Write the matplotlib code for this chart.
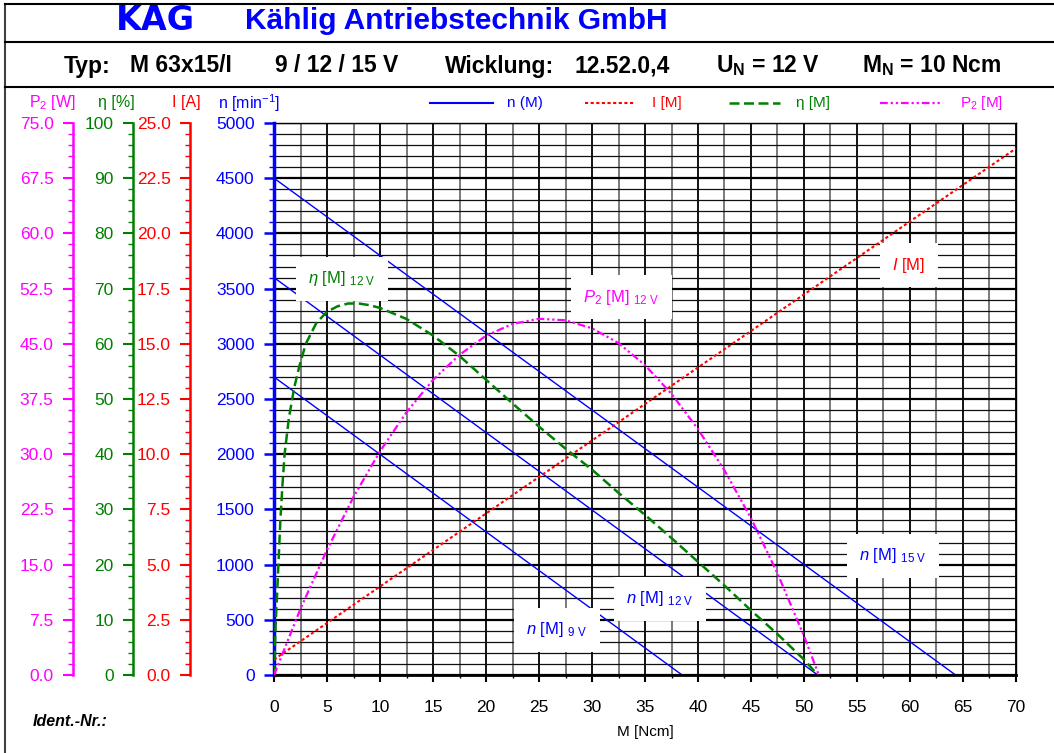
import matplotlib
matplotlib.use("Agg")
import matplotlib.pyplot as plt
from matplotlib.lines import Line2D
from matplotlib.ticker import MultipleLocator, FormatStrFormatter

plt.rcParams['font.family'] = ['Liberation Sans', 'DejaVu Sans']
plt.rcParams['mathtext.fontset'] = 'custom'
plt.rcParams['mathtext.rm'] = 'Liberation Sans'
plt.rcParams['mathtext.it'] = 'Liberation Sans:italic'
plt.rcParams['mathtext.bf'] = 'Liberation Sans:bold'

# speed lines n(M) for 9 / 12 / 15 V
n_15v_m = [0, 64.3]
n_15v = [4500, 0]
n_12v_m = [0, 51.3]
n_12v = [3600, 0]
n_9v_m = [0, 38.5]
n_9v = [2700, 0]

# current I(M)
i_m = [0, 70]
i_a = [0.7, 23.85]

# efficiency at 12 V
eta_m = [0, 0.15, 0.3, 0.45, 0.6, 0.8, 1.0, 1.4, 1.9, 2.4, 3.0, 4.0, 5.0, 6.0, 7.0, 8.0, 9.0, 10.0,
         12.5, 15.0, 17.5, 20.0, 22.5, 25.0, 27.5, 30.0, 32.5, 35.0, 37.5, 40.0, 42.5, 45.0, 47.5, 50.0, 51.3]
eta = [0, 9, 15, 21.5, 28, 34.5, 40, 46.5, 52, 56, 60, 63.8, 65.8, 66.8, 67.3, 67.3, 67.0, 66.5,
       64.5, 61.5, 57.8, 53.5, 49.2, 45.0, 41.0, 37.2, 33.0, 29.0, 24.8, 20.5, 16.2, 11.7, 7.4, 2.8, 0]

# output power at 12 V
p2_m = [0, 2.5, 5, 7.5, 10, 12.5, 15, 17.5, 20, 22.5, 25, 27.5, 30, 32.5, 35, 37.5, 40, 42.5, 45, 47.5, 50, 51.4]
p2 = [0, 9.0, 17.0, 24.2, 30.4, 35.7, 40.1, 43.5, 46.1, 47.7, 48.4, 48.2, 47.1, 45.1, 42.1, 38.2, 33.4,
      27.8, 21.3, 13.8, 5.3, 0]

W, H = 1054, 753
BLUE = '#0000FF'
RED = '#FF0000'
GREEN = '#008000'
MAGENTA = '#FF00FF'


def fx(x):
    return x / W


def fy(y):
    return 1 - y / H


fig = plt.figure(figsize=(W / 100, H / 100), dpi=100)

# frame and header separators
fig.add_artist(Line2D([fx(5), fx(5)], [fy(4), fy(753)], color='#404040', lw=1.5))
for yy in [4, 42, 87]:
    fig.add_artist(Line2D([fx(5), 1], [fy(yy), fy(yy)], color='black', lw=1.5))

# header
fig.text(fx(116), fy(21), 'KAG', color=BLUE, fontsize=24, fontweight='bold',
         family='DejaVu Sans', va='center', ha='left')
fig.text(fx(245), fy(21), 'Kählig Antriebstechnik GmbH', color=BLUE, fontsize=21.5,
         fontweight='bold', va='center', ha='left')
row = [(64, 'Typ:'), (130, 'M 63x15/I'), (275, '9 / 12 / 15 V'),
       (445, 'Wicklung:'), (575, '12.52.0,4'),
       (716, r'U$_\mathbf{N}$ = 12 V'), (862, r'M$_\mathbf{N}$ = 10 Ncm')]
for x, s in row:
    fig.text(fx(x), fy(66), s, fontsize=16.5, fontweight='bold', va='center', ha='left')

# axis headers
fig.text(fx(52), fy(103), r'P$_\mathrm{2}$ [W]', color=MAGENTA, fontsize=11.5, ha='center', va='center')
fig.text(fx(116), fy(103), 'η [%]', color=GREEN, fontsize=11.5, ha='center', va='center')
fig.text(fx(186), fy(103), 'I [A]', color=RED, fontsize=11.5, ha='center', va='center')
fig.text(fx(249), fy(103), r'n [min$^\mathrm{-1}$]', color=BLUE, fontsize=11.5, ha='center', va='center')

# legend row
legend_items = [(430, 493, 507, BLUE, '-', 1.5, 'n (M)'),
                (585, 635, 652, RED, (0, (1.5, 1.2)), 1.5, 'I [M]'),
                (729, 780, 796, GREEN, (0, (4, 1.8)), 1.8, 'η [M]'),
                (880, 940, 960, MAGENTA, (0, (3.5, 1.3, 1, 1.3, 1, 1.3)), 1.6, r'P$_\mathrm{2}$ [M]')]
for x0, x1, xt, c, ls, lw, s in legend_items:
    fig.add_artist(Line2D([fx(x0), fx(x1)], [fy(103), fy(103)], color=c, ls=ls, lw=lw))
    fig.text(fx(xt), fy(103), s, color=c, fontsize=11, ha='left', va='center')

# main axes (speed)
ax = fig.add_axes([fx(274), fy(675), (1016 - 274) / W, (675 - 123) / H])
ax.set_xlim(0, 70)
ax.set_ylim(0, 5000)
ax.xaxis.set_major_locator(MultipleLocator(5))
ax.xaxis.set_minor_locator(MultipleLocator(2.5))
ax.yaxis.set_major_locator(MultipleLocator(500))
ax.yaxis.set_minor_locator(MultipleLocator(100))
ax.set_axisbelow(True)
ax.xaxis.grid(True, which='major', color='black', lw=1.3)
ax.xaxis.grid(True, which='minor', color='#707070', lw=1.3)
ax.yaxis.grid(True, which='major', color='black', lw=1.6)
ax.yaxis.grid(True, which='minor', color='#101010', lw=0.9)
ax.spines['left'].set_color(BLUE)
ax.spines['left'].set_linewidth(2.5)
ax.spines['bottom'].set_linewidth(2)
ax.spines['top'].set_linewidth(1)
ax.spines['right'].set_linewidth(1)
ax.tick_params(axis='y', which='major', colors=BLUE, length=7, width=1.8, labelsize=12.5, pad=7)
ax.tick_params(axis='y', which='minor', colors=BLUE, length=3.5, width=1)
ax.tick_params(axis='x', which='major', length=5, width=1.5, labelsize=12.5, pad=13)
ax.tick_params(axis='x', which='minor', length=2.5, width=1)
ax.set_xlabel('M [Ncm]', fontsize=11, labelpad=7)

ax.plot(n_15v_m, n_15v, color=BLUE, lw=1)
ax.plot(n_12v_m, n_12v, color=BLUE, lw=1)
ax.plot(n_9v_m, n_9v, color=BLUE, lw=1)


def side_axis(color, x_px, ylim, major, minor, fmt):
    a = ax.twinx()
    a.set_ylim(*ylim)
    for s in ['top', 'right', 'bottom']:
        a.spines[s].set_visible(False)
    a.spines['left'].set_visible(True)
    a.spines['left'].set_position(('axes', (x_px - 274) / (1016 - 274)))
    a.spines['left'].set_color(color)
    a.spines['left'].set_linewidth(1.8)
    a.yaxis.set_ticks_position('left')
    a.yaxis.set_label_position('left')
    a.yaxis.set_major_locator(MultipleLocator(major))
    a.yaxis.set_minor_locator(MultipleLocator(minor))
    a.yaxis.set_major_formatter(FormatStrFormatter(fmt))
    a.tick_params(axis='y', which='major', colors=color, length=7, width=1.5, labelsize=12.5, pad=7)
    a.tick_params(axis='y', which='minor', colors=color, length=3.5, width=1)
    return a


ax_i = side_axis(RED, 190, (0, 25), 2.5, 0.5, '%.1f')
ax_eta = side_axis(GREEN, 133, (0, 100), 10, 2, '%d')
ax_p = side_axis(MAGENTA, 73, (0, 75), 7.5, 1.5, '%.1f')

ax_i.plot(i_m, i_a, color=RED, lw=1.5, ls=(0, (1.5, 1.2)))
ax_eta.plot(eta_m, eta, color=GREEN, lw=1.8, ls=(0, (4, 1.8)))
ax_p.plot(p2_m, p2, color=MAGENTA, lw=1.6, ls=(0, (3.5, 1.3, 1, 1.3, 1, 1.3)))

# curve labels
box = dict(facecolor='white', edgecolor='none', boxstyle='square,pad=0.75')
labels = [(6.4, 3590, r'$\eta$ [M] ${}_\mathrm{12\ V}$', GREEN),
          (32.8, 3420, r'$P_\mathrm{2}$ [M] ${}_\mathrm{12\ V}$', MAGENTA),
          (59.9, 3710, r'$I$ [M]', RED),
          (58.4, 1080, r'$n$ [M] ${}_\mathrm{15\ V}$', BLUE),
          (36.4, 690, r'$n$ [M] ${}_\mathrm{12\ V}$', BLUE),
          (26.7, 410, r'$n$ [M] ${}_\mathrm{9\ V}$', BLUE)]
for x, y, s, c in labels:
    ax.text(x, y, s, color=c, fontsize=12, ha='center', va='center', bbox=box, zorder=5)

fig.text(fx(33), fy(721), 'Ident.-Nr.:', fontsize=11.5, fontweight='bold', style='italic',
         ha='left', va='center')

fig.savefig('out.png', dpi=100)
